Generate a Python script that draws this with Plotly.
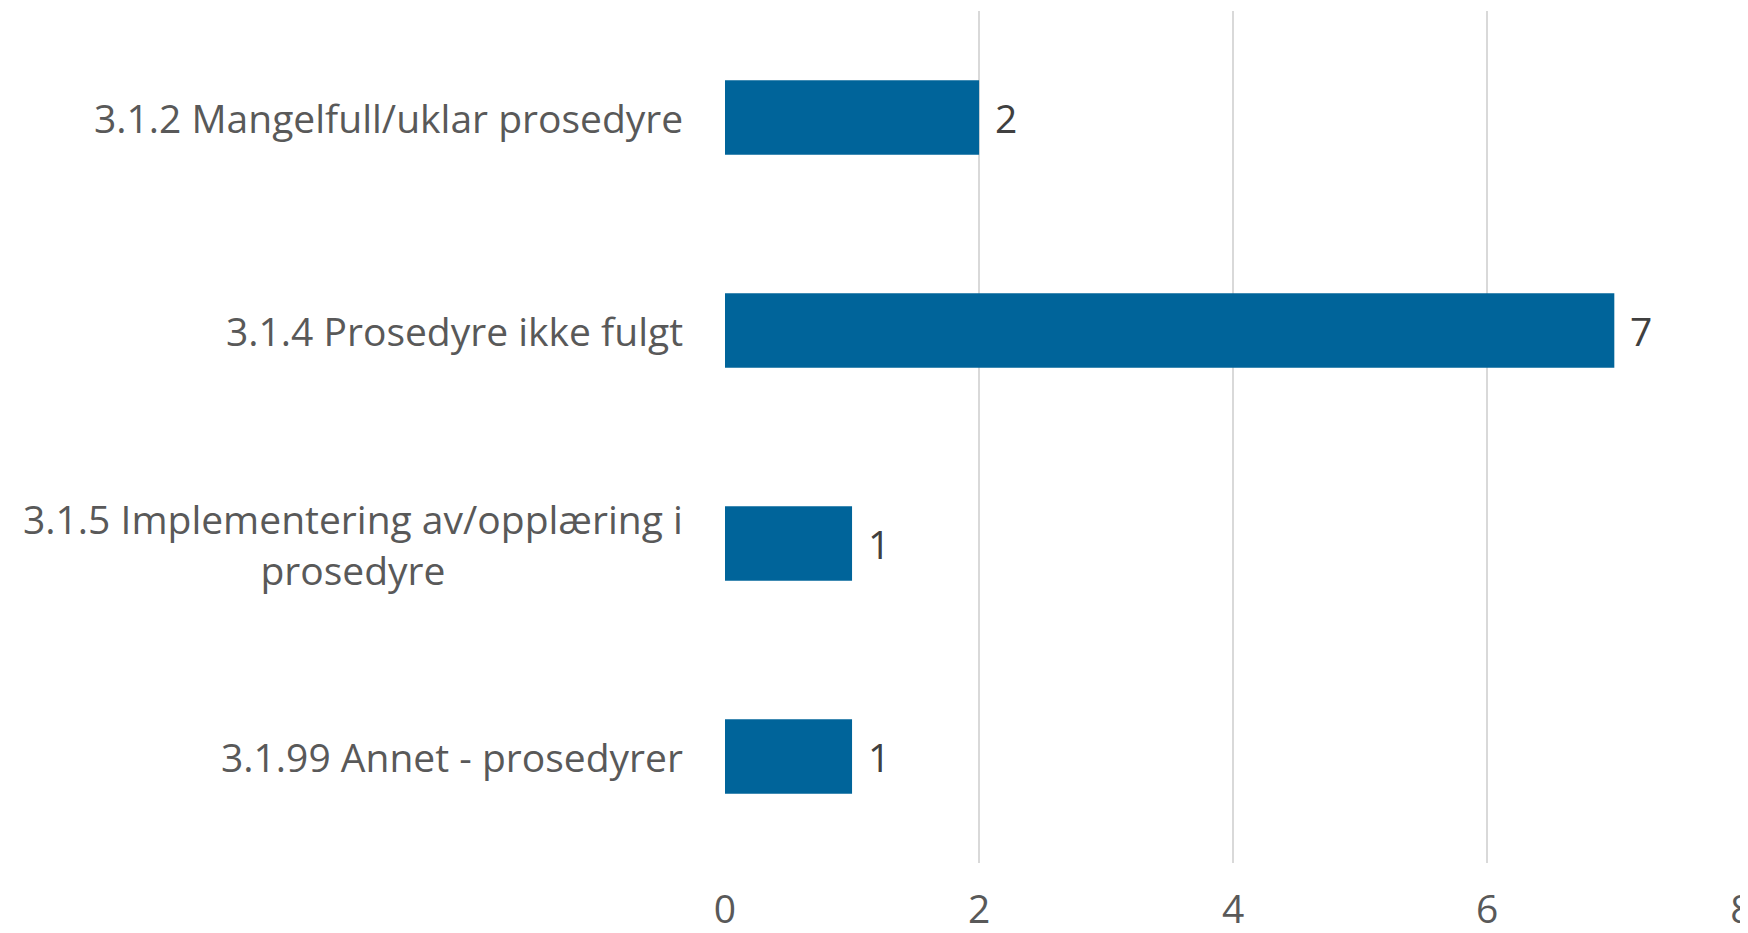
import plotly.graph_objects as go

categories = ["3.1.2 Mangelfull/uklar prosedyre",
              "3.1.4 Prosedyre ikke fulgt",
              "3.1.5 Implementering av/opplæring i<br>prosedyre",
              "3.1.99 Annet - prosedyrer"]
values = [2, 7, 1, 1]
x_ticks = [0, 2, 4, 6, 8]

FONT = "Open Sans"
SIZE = 39
fig = go.Figure(go.Bar(
    x=values, y=list(range(len(categories))), orientation="h",
    marker=dict(color="#00649A", line=dict(width=0)), width=0.35,
    hoverinfo="skip",
))

for i, (c, v) in enumerate(zip(categories, values)):
    fig.add_annotation(x=0, xref="paper", y=i, yref="y", text=c, showarrow=False,
                       xanchor="right", align="center", xshift=-40,
                       font=dict(family=FONT, size=SIZE, color="#595959"))
    fig.add_annotation(x=v, xref="x", y=i, yref="y", text=str(v), showarrow=False,
                       xanchor="left", xshift=14,
                       font=dict(family=FONT, size=SIZE, color="#404040"))

fig.update_layout(
    width=1740, height=925,
    margin=dict(l=717, r=6, t=3, b=70),
    paper_bgcolor="white", plot_bgcolor="white",
    showlegend=False,
    font=dict(family=FONT, size=SIZE, color="#595959"),
    xaxis=dict(range=[0, 8.005], tickvals=x_ticks, showgrid=True, gridcolor="#D9D9D9",
               gridwidth=2, zeroline=False, showline=False, ticks="",
               ticklabelstandoff=20, ticklabeloverflow="allow", automargin=False,
               tickfont=dict(size=SIZE, color="#595959")),
    yaxis=dict(range=[3.5, -0.5], showticklabels=False, showgrid=False,
               zeroline=False, showline=False, ticks="", automargin=False),
)
fig.write_html("out.html")
